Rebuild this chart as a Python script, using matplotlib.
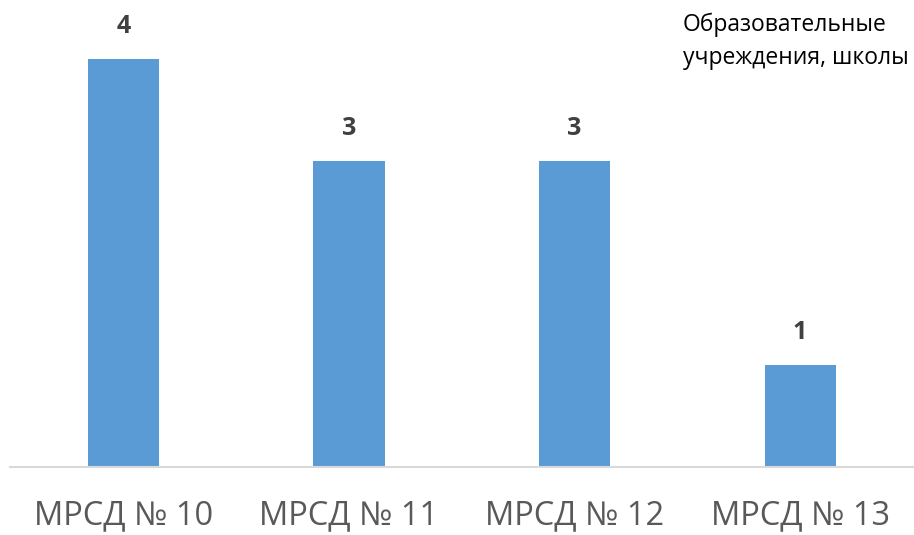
import matplotlib.pyplot as plt

# Данные
categories = ['МРСД № 10', 'МРСД № 11', 'МРСД № 12', 'МРСД № 13']
values = [4, 3, 3, 1]
series_name = 'Образовательные\nучреждения, школы'

plt.rcParams['font.family'] = ['Open Sans', 'DejaVu Sans']

fig = plt.figure(figsize=(9.14, 5.35), dpi=100)
ax = fig.add_axes([10 / 914, 68 / 535, 904 / 914, 467 / 535])

x = list(range(len(categories)))
bars = ax.bar(x, values, width=0.315, color='#5b9bd5')

for xi, v in zip(x, values):
    ax.text(xi, v + 0.2, str(v), ha='center', va='bottom',
            fontsize=18, fontweight='bold', color='#404040')

ax.set_xlim(-0.503, 3.505)
ax.set_ylim(0, 4.58)
ax.set_yticks([])
ax.set_xticks(x)
ax.set_xticklabels(categories, fontsize=23.5, color='#595959')
ax.tick_params(axis='x', length=0, pad=23)

for side in ['top', 'right', 'left']:
    ax.spines[side].set_visible(False)
ax.spines['bottom'].set_color('#d9d9d9')
ax.spines['bottom'].set_linewidth(1.5)

fig.text(683 / 914, 1 - 13 / 535, series_name, ha='left', va='top',
         fontsize=16.5, color='#000000', linespacing=1.5)

plt.savefig('out.png', dpi=100)
